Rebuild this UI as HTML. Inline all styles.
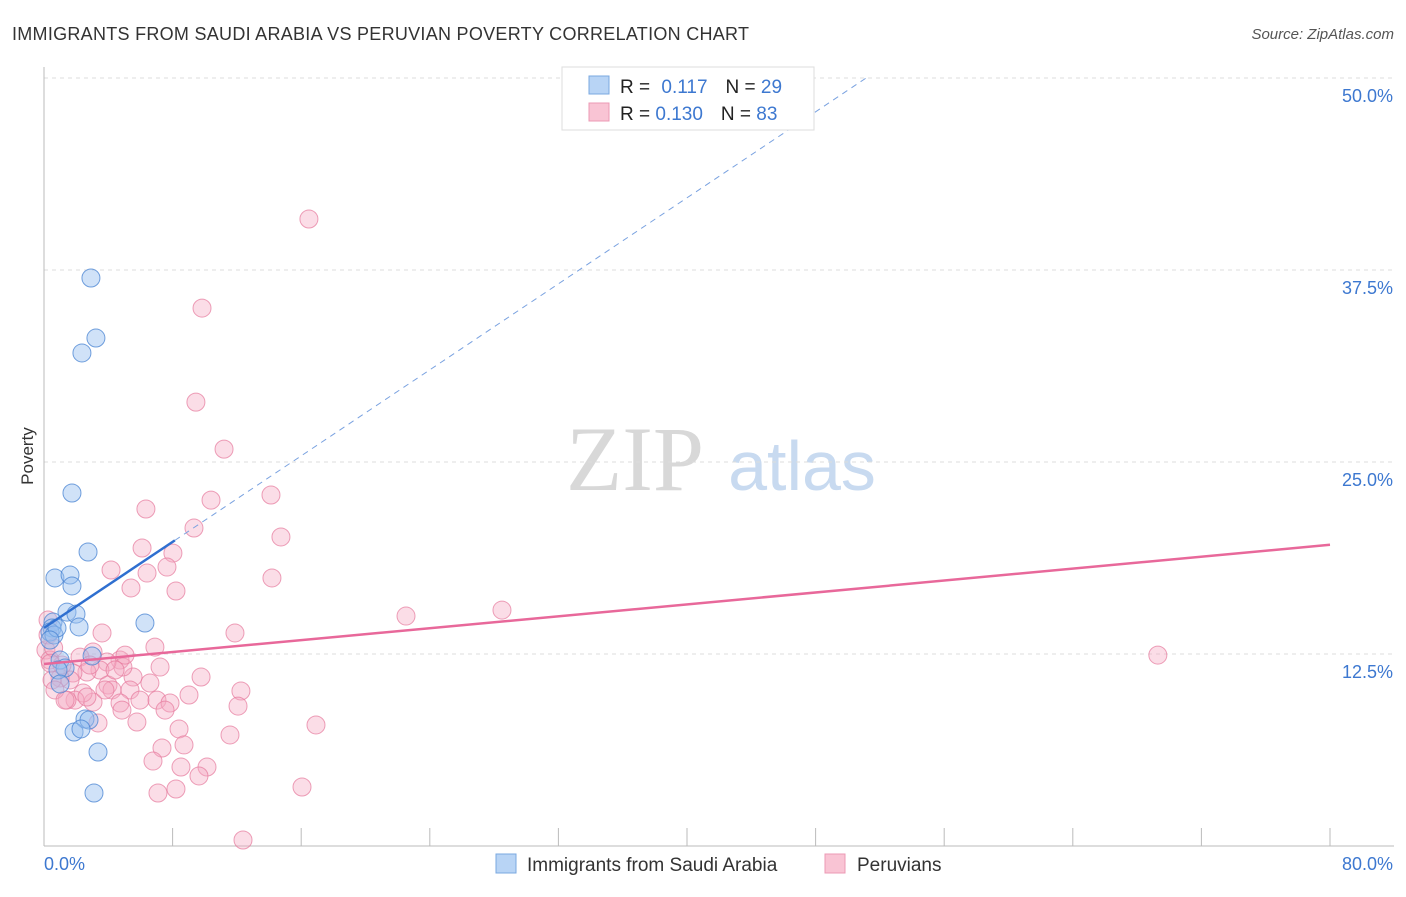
<!DOCTYPE html>
<html><head><meta charset="utf-8"><style>
body{margin:0;background:#fff;font-family:"Liberation Sans",sans-serif;}
svg text{font-family:"Liberation Sans",sans-serif;}
</style></head><body>
<svg id="chart" width="1406" height="892">
<text x="12" y="40" font-size="18" fill="#333" textLength="737">IMMIGRANTS FROM SAUDI ARABIA VS PERUVIAN POVERTY CORRELATION CHART</text>
<text x="1394" y="39" font-size="15" fill="#555" font-style="italic" text-anchor="end">Source: ZipAtlas.com</text>
<text x="33" y="456" font-size="17" fill="#333" text-anchor="middle" transform="rotate(-90 33 456)">Poverty</text>
<g><text x="635" y="490" font-size="92" fill="#d8d8d8" text-anchor="middle" font-family="Liberation Serif" style="font-family:'Liberation Serif',serif">ZIP</text><text x="802" y="490" font-size="70" fill="#c8daf0" text-anchor="middle">atlas</text></g>
<g id="grid"></g><g id="axes"></g><g id="pts"></g><g id="lines"></g>
<g>
<rect x="562" y="67" width="252" height="63" fill="#fff" stroke="#ddd"/>
<rect x="589" y="76" width="20" height="18" fill="#b8d4f5" stroke="#7aa8e0"/>
<rect x="589" y="103" width="20" height="18" fill="#f9c4d4" stroke="#ec9ab4"/>
<text x="620" y="93" font-size="19" fill="#222">R = <tspan fill="#3d78d0" dx="6">0.117</tspan><tspan dx="18" fill="#222">N = </tspan><tspan fill="#3d78d0">29</tspan></text>
<text x="620" y="120" font-size="19" fill="#222">R = <tspan fill="#3d78d0">0.130</tspan><tspan dx="18" fill="#222">N = </tspan><tspan fill="#3d78d0">83</tspan></text>
</g>
<g>
<rect x="496" y="854" width="20" height="19" fill="#b8d4f5" stroke="#7aa8e0"/>
<text x="527" y="871" font-size="19" fill="#333">Immigrants from Saudi Arabia</text>
<rect x="825" y="854" width="20" height="19" fill="#f9c4d4" stroke="#ec9ab4"/>
<text x="857" y="871" font-size="19" fill="#333">Peruvians</text>
</g>
</svg>
<script>
const yTicks=[12.5,25,37.5,50];
const yTickLabels=["12.5%","25.0%","37.5%","50.0%"];
const xTickLabels=["0.0%","80.0%"];
const saudiX=[2.92,3.23,2.36,1.74,2.74,0.68,1.62,1.74,1.43,1.99,2.18,6.28,0.56,0.50,0.37,0.62,0.81,2.99,1.00,1.31,0.87,1.00,2.55,2.80,1.87,2.30,3.36,3.11,0.37];
const saudiY=[36.98,33.07,32.10,22.98,19.14,17.45,17.64,16.93,15.23,15.10,14.26,14.52,14.58,14.19,13.93,13.74,14.19,12.37,12.11,11.59,11.46,10.55,8.27,8.20,7.42,7.62,6.12,3.45,13.41];
const peruX=[10.39,6.34,14.12,14.74,9.33,6.10,8.02,7.65,6.41,4.17,5.41,8.21,14.18,3.61,11.88,6.90,7.22,9.77,12.25,12.07,9.02,6.59,5.54,4.73,4.91,3.92,3.05,2.24,3.48,2.67,1.80,1.62,1.00,3.98,4.23,5.35,5.97,7.03,7.84,7.53,4.73,4.85,3.05,2.43,1.93,1.43,2.67,3.36,5.78,8.40,11.57,16.92,8.71,7.34,6.78,8.52,10.14,9.64,16.05,7.09,8.21,12.38,16.48,9.83,9.45,11.20,69.29,28.49,22.52,0.25,0.12,0.37,0.50,0.68,1.31,5.04,4.42,2.86,3.79,1.12,0.25,0.6,0.4];
const peruY=[22.52,21.94,22.85,20.12,20.70,19.40,19.07,18.16,17.77,17.97,16.80,16.60,17.45,13.87,13.87,12.95,11.65,11.00,10.09,9.11,9.83,10.61,11.00,12.11,11.65,11.98,12.63,12.30,11.46,11.33,11.26,10.81,10.94,10.48,10.16,10.16,9.50,9.50,9.31,8.85,9.31,8.85,9.37,9.96,9.50,9.50,9.70,8.01,8.07,7.62,7.23,7.88,6.58,6.38,5.53,5.14,5.14,4.56,3.84,3.45,3.71,0.39,40.82,35.02,28.90,25.84,12.43,15.36,14.97,14.71,12.76,12.11,10.81,10.16,9.50,12.43,11.46,11.78,10.16,11.78,13.74,12.9,11.9];
const saudiTrend=[14.2,0.70,8.14];
const peruTrend=[11.85,0.097];
const X=v=>44+v*(1286/80), Y=v=>846-v*15.36;
const NS="http://www.w3.org/2000/svg";
function mk(parent,tag,attrs){const e=document.createElementNS(NS,tag);for(const k in attrs)e.setAttribute(k,attrs[k]);document.getElementById(parent).appendChild(e);return e;}
yTicks.forEach((t,i)=>{
 const g=mk('grid','line',{x1:44,x2:1394,y1:Y(t),y2:Y(t),stroke:'#ddd','stroke-dasharray':'4,4'});
 
 
 const l=mk('axes','text',{x:1393,y:Y(t)+24,'font-size':18,fill:'#3d78d0','text-anchor':'end'});
 l.textContent=yTickLabels[i];
 
 
});
const ax=mk('axes','line',{x1:44,x2:1394,y1:846,y2:846,stroke:'#bbb'});


const ay=mk('axes','line',{x1:44,x2:44,y1:67,y2:846,stroke:'#bbb'});


for(let i=1;i<=10;i++){const t=mk('axes','line',{x1:X(i*8),x2:X(i*8),y1:828,y2:846,stroke:'#bbb'});
 
 }
const xl0=mk('axes','text',{x:44,y:870,'font-size':18,fill:'#3d78d0'});xl0.textContent=xTickLabels[0];


const xl1=mk('axes','text',{x:1393,y:870,'font-size':18,fill:'#3d78d0','text-anchor':'end'});xl1.textContent=xTickLabels[1];


peruX.forEach((x,i)=>{const c=mk('pts','circle',{cx:X(x),cy:Y(peruY[i]),r:9,fill:'rgba(245,170,195,0.4)',stroke:'rgba(230,120,155,0.7)'});
 
 });
saudiX.forEach((x,i)=>{const c=mk('pts','circle',{cx:X(x),cy:Y(saudiY[i]),r:9,fill:'rgba(150,190,240,0.45)',stroke:'rgba(70,130,210,0.75)'});
 
 });
const pl=mk('lines','line',{x1:X(0),y1:Y(peruTrend[0]),x2:X(80),y2:Y(peruTrend[0]+peruTrend[1]*80),stroke:'#e8689a','stroke-width':2.5});


const xe=(50-saudiTrend[0])/saudiTrend[1];
const bd=mk('lines','line',{x1:X(saudiTrend[2]),y1:Y(saudiTrend[0]+saudiTrend[1]*saudiTrend[2]),x2:X(xe),y2:Y(50),stroke:'#7aa2e0','stroke-width':1,'stroke-dasharray':'6,5'});


const bl=mk('lines','line',{x1:X(0),y1:Y(saudiTrend[0]),x2:X(saudiTrend[2]),y2:Y(saudiTrend[0]+saudiTrend[1]*saudiTrend[2]),stroke:'#2f6fd0','stroke-width':2.5});


</script>
</body></html>
